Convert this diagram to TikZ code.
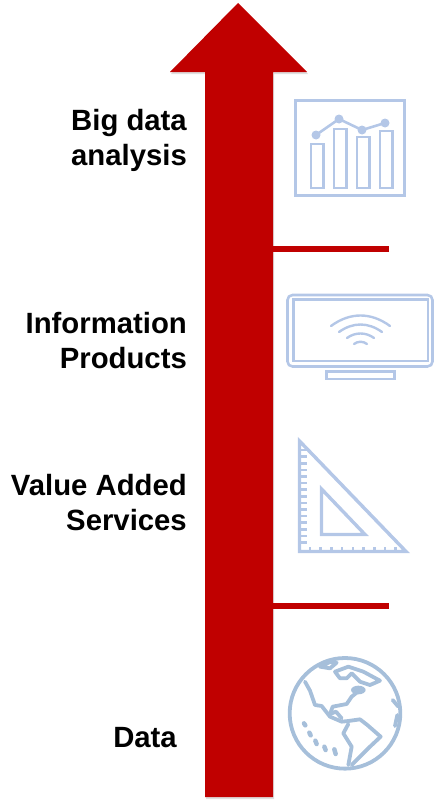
\documentclass[tikz,border=0pt]{standalone}
\usepackage{fontspec}
\setmainfont{Liberation Sans}
\usepackage{xcolor}
\usetikzlibrary{shadows,fadings}
\definecolor{arrowred}{HTML}{C00000}
\definecolor{iconblue}{HTML}{B4C7E7}
\definecolor{globeblue}{HTML}{A6BFDA}
\tikzset{
  stage/.style = {anchor=east, align=right, text=black, inner sep=0pt,
    font=\fontsize{29.3}{35}\selectfont\bfseries},
  icon/.style = {draw=iconblue, line width=3.4pt},
  icon_thin/.style = {draw=iconblue, line width=2.6pt},
  wifi/.style = {draw=iconblue, line width=2.4pt, line cap=round},
  globe/.style = {draw=globeblue, line width=3.8pt, line join=round, line cap=round},
  red_rule/.style = {draw=arrowred, line width=5.5pt,
    drop shadow={opacity=.2, shadow xshift=1pt, shadow yshift=-2pt}}
}
\begin{document}
\begin{tikzpicture}[x=1pt,y=-1pt]
\useasboundingbox (0,0) rectangle (434,800);

% the big arrow
\fill[arrowred, drop shadow={opacity=.25, shadow xshift=1pt, shadow yshift=-2pt}]
  (238,3) -- (307,72) -- (273,72) -- (273,797) -- (205,797) -- (205,72) -- (170,72) -- cycle;

\coordinate (upper_a) at (273,249);
\coordinate (upper_b) at (389,249);
\coordinate (lower_a) at (273,606);
\coordinate (lower_b) at (389,606);
\draw[red_rule] (upper_a) -- (upper_b);
\draw[red_rule] (lower_a) -- (lower_b);

\node [stage] (bigdata) at (187,140) {Big data\\analysis};
\node [stage] (infoprod) at (187,341) {Information\\Products};
\node [stage] (services) at (187,503) {Value Added\\Services};
\node [stage] (data) at (177,737.5) {Data};

% chart
\draw[icon] (295.5,100.5) rectangle (404.5,195.5);
\foreach \xa/\ya in {311/144, 334/129, 357/137, 380/131}
  \draw[icon_thin] (\xa,\ya) rectangle (\xa+12.5,188);
\draw[icon_thin] (316,135) -- (339,119) -- (362,130) -- (385,123);
\foreach \xa/\ya in {316/135, 339/119, 362/130, 385/123}
  \fill[iconblue] (\xa,\ya) circle (4.5);

% screen
\draw[icon_thin, rounded corners=5pt] (287.5,295) rectangle (432.5,366.5);
\draw[icon_thin] (293.5,299.5) rectangle (428,361);
\draw[icon_thin] (326.5,371.5) rectangle (394.5,379);
\draw[wifi] (331,326) .. controls (350,312) and (371,312) .. (390,326);
\draw[wifi] (339,332) .. controls (353,322) and (368,322) .. (382,332);
\draw[wifi] (347,338) .. controls (355,332) and (366,332) .. (374,338);
\draw[wifi] (354,344) .. controls (358,341) and (363,341) .. (367,344);

% set square
\draw[icon, miter limit=10] (299.5,441) -- (299.5,551.5) -- (406,551.5) -- cycle;
\draw[icon, miter limit=10] (321.5,489) -- (321.5,534.5) -- (365,534.5) -- cycle;
\foreach \i in {0,...,14}
  \draw[icon_thin] (299,450+6.6*\i) -- (307,450+6.6*\i);
\foreach \i in {0,...,8}
  \draw[icon_thin] (310+10.7*\i,552) -- (310+10.7*\i,547);

% globe
\begin{scope}[shift={(280,650)},x=0.3333pt,y=-0.3333pt]
\draw[globe] (195,190) circle (166);
\draw[globe] (75,95) -- (90,122) -- (105,165) -- (125,168) -- (150,200) -- (185,215)
  -- (205,213) -- (240,208) -- (262,225) -- (302,260) -- (270,290) -- (215,345);
\draw[globe] (205,345) -- (215,290) -- (190,250) -- (205,222);
\draw[globe] (240,120) -- (215,140) -- (200,162) -- (158,170) -- (150,192) -- (168,185) -- (185,205);
\draw[globe] (165,65) -- (205,50) -- (250,65) -- (300,92) -- (270,105) -- (240,95) -- (215,70)
  -- (200,85) -- (180,85) -- cycle;
\fill[globeblue] (235,120) ellipse (22 and 13);
\draw[globe] (120,50) -- (150,36) -- (170,38) -- (150,55) -- cycle;
\draw[globe] (338,150) -- (355,170);
\draw[globe] (345,228) -- (352,195);
\foreach \xa/\ya/\xb/\yb in {72/220/76/226, 88/248/92/256, 106/272/110/282, 133/290/137/300, 163/298/167/312}
  \draw[globe, line width=4.5pt] (\xa,\ya) -- (\xb,\yb);
\end{scope}
\end{tikzpicture}
\end{document}
